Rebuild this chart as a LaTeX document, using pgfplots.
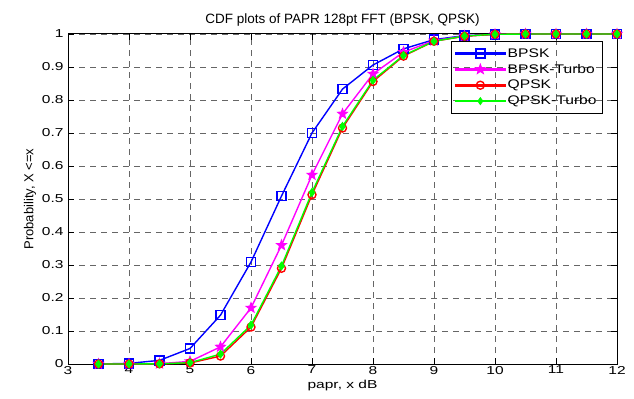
\documentclass[border=0pt]{standalone}
\usepackage{fontspec}
\setmainfont{Liberation Sans}
\newfontfamily\wide[FakeStretch=1.35]{Liberation Sans}
\usepackage{graphicx}
\usepackage{pgfplots}
\pgfplotsset{compat=1.18}
\definecolor{mblue}{RGB}{0,0,255}
\definecolor{mmag}{RGB}{255,0,255}
\definecolor{mred}{RGB}{255,0,0}
\definecolor{mgreen}{RGB}{0,255,0}
\newcommand{\lw}[1]{\scalebox{1.25}[1]{#1}}
\pgfdeclareplotmark{fstar}{%
  \pgfpathmoveto{\pgfpointpolar{90}{\pgfplotmarksize}}%
  \pgfpathlineto{\pgfpointpolar{126}{0.42\pgfplotmarksize}}%
  \pgfpathlineto{\pgfpointpolar{162}{\pgfplotmarksize}}%
  \pgfpathlineto{\pgfpointpolar{198}{0.42\pgfplotmarksize}}%
  \pgfpathlineto{\pgfpointpolar{234}{\pgfplotmarksize}}%
  \pgfpathlineto{\pgfpointpolar{270}{0.42\pgfplotmarksize}}%
  \pgfpathlineto{\pgfpointpolar{306}{\pgfplotmarksize}}%
  \pgfpathlineto{\pgfpointpolar{342}{0.42\pgfplotmarksize}}%
  \pgfpathlineto{\pgfpointpolar{18}{\pgfplotmarksize}}%
  \pgfpathlineto{\pgfpointpolar{54}{0.42\pgfplotmarksize}}%
  \pgfpathclose
  \pgfusepathqfill}
\begin{document}
\begin{tikzpicture}
\begin{axis}[
  scale only axis,
  width=549pt, height=330pt,
  xmin=3, xmax=12, ymin=0, ymax=1,
  xtick={3,4,...,12},
  ytick={0,0.1,...,1},
  /pgf/number format/assume math mode=true,
  tick label style={font=\fontsize{11.5}{13}\wide},
  xticklabel style={yshift=1.5pt},
  yticklabel style={xshift=-1pt, /pgf/number format/.cd, fixed, precision=1},
  tick align=inside,
  major tick length=6pt,
  tick style={black, line width=0.7pt},
  axis line style={black, line width=1pt},
  grid=major,
  major grid style={black!60, dash pattern=on 6pt off 5pt, line width=0.7pt},
  title={CDF plots of PAPR 128pt FFT (BPSK, QPSK)},
  title style={font=\fontsize{13.5}{15}\selectfont, yshift=-2pt},
  xlabel={papr, x dB},
  ylabel={Probability, X <=x},
  xlabel style={font=\fontsize{11.5}{13}\wide, yshift=1pt},
  ylabel style={font=\fontsize{13}{15}\selectfont, yshift=-1pt},
  legend style={at={(0.9745,0.979)}, anchor=north east, draw=black, line width=0.8pt,
    fill=none, font=\fontsize{12.5}{14}\selectfont, row sep=1.5pt, inner xsep=4pt, inner ysep=5pt},
  legend cell align=left,
]
\coordinate (sw) at (rel axis cs:0,0);
\coordinate (ne) at (rel axis cs:1,1);
\addlegendimage{color=mblue, legend image code/.code={\fill[mblue] (0pt,-0.75pt) rectangle (50pt,0.75pt); \draw[mblue, line width=1.4pt] (20.5pt,-4.5pt) rectangle (29.5pt,4.5pt);}}
\addlegendentry{\lw{BPSK}}
\addlegendimage{color=mmag, legend image code/.code={\fill[mmag] (0pt,-0.75pt) rectangle (50pt,0.75pt); \fill[mmag] plot[mark=fstar, mark size=6.5pt] coordinates {(25pt,0pt)};}}
\addlegendentry{\lw{BPSK-Turbo}}
\addlegendimage{color=mred, legend image code/.code={\fill[mred] (0pt,-0.75pt) rectangle (50pt,0.75pt); \draw[mred, line width=1.4pt] (25pt,0pt) circle (4pt);}}
\addlegendentry{\lw{QPSK}}
\addlegendimage{color=mgreen, legend image code/.code={\fill[mgreen] (0pt,-0.75pt) rectangle (50pt,0.75pt); \fill[mgreen] (25pt,3.5pt) -- (22.5pt,0pt) -- (25pt,-3.5pt) -- (27.5pt,0pt) -- cycle;}}
\addlegendentry{\lw{QPSK-Turbo}}
\addplot[color=mblue, line width=1.4pt, mark=square, mark size=4.5pt, forget plot] coordinates {
(3.5,0)(4,0.002)(4.5,0.011)(5,0.047)(5.5,0.148)(6,0.309)(6.5,0.509)(7,0.700)(7.5,0.833)(8,0.906)(8.5,0.955)(9,0.983)(9.5,0.995)(10,0.999)(10.5,1)(11,1)(11.5,1)(12,1)};
\addplot[color=mmag, line width=1.4pt, mark=fstar, mark size=6.5pt, forget plot] coordinates {
(3.5,0)(4,0)(4.5,0.001)(5,0.008)(5.5,0.052)(6,0.170)(6.5,0.360)(7,0.573)(7.5,0.758)(8,0.879)(8.5,0.945)(9,0.980)(9.5,0.994)(10,0.999)(10.5,1)(11,1)(11.5,1)(12,1)};
\addplot[color=mred, line width=1.4pt, mark=o, mark size=4pt, forget plot] coordinates {
(3.5,0)(4,0)(4.5,0.0005)(5,0.003)(5.5,0.024)(6,0.112)(6.5,0.290)(7,0.513)(7.5,0.715)(8,0.856)(8.5,0.933)(9,0.978)(9.5,0.993)(10,0.999)(10.5,1)(11,1)(11.5,1)(12,1)};
\addplot[color=mgreen, line width=1.4pt, mark=diamond*, mark size=3.5pt, forget plot] coordinates {
(3.5,0)(4,0)(4.5,0.0005)(5,0.004)(5.5,0.030)(6,0.118)(6.5,0.297)(7,0.520)(7.5,0.720)(8,0.860)(8.5,0.935)(9,0.978)(9.5,0.994)(10,0.999)(10.5,1)(11,1)(11.5,1)(12,1)};
\end{axis}
\pgfresetboundingbox
\path ([shift={(-68pt,-34pt)}]sw) rectangle ([shift={(17pt,34pt)}]ne);
\end{tikzpicture}
\end{document}
